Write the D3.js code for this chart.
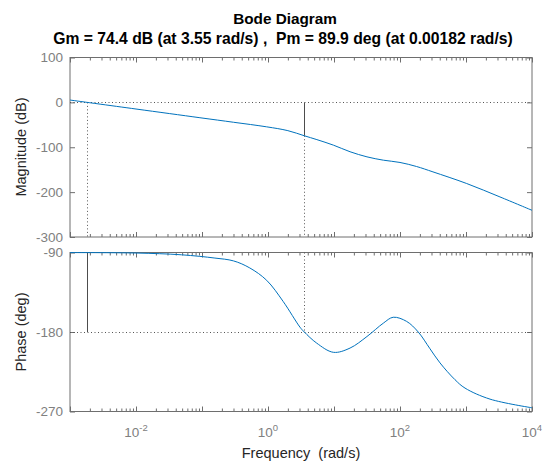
<!DOCTYPE html>
<html>
<head>
<meta charset="utf-8">
<script src="https://cdn.jsdelivr.net/npm/d3@7"></script>
<style>
	body { margin:0; background:#fff; }
	text { font-family:"Liberation Sans", Arial, sans-serif; white-space:pre; }
</style>
</head>
<body>
<div id="chart"></div>
<script>
// values
var magFreq = [0.001, 0.01, 0.093, 0.3, 0.955, 2, 3.55, 5.5, 9.8, 17.5, 31.6, 56, 100, 178, 316, 1023, 3270, 10000];
var magDb = [5.2, -14.8, -34.2, -44.3, -54.5, -63, -74.4, -83, -95.3, -110, -121.4, -128.8, -133.9, -142.9, -154.9, -180.8, -210.7, -240.5];
var phFreq = [0.001, 0.01, 0.049, 0.157, 0.3, 0.53, 0.955, 1.7, 3.05, 3.55, 5.47, 9.8, 17.5, 31.6, 55.9, 79, 126, 189, 285, 404, 681, 966, 2312, 10000];
var phDeg = [-90.1, -90.6, -92.6, -96.3, -99.5, -107.5, -121.5, -145.5, -174.5, -180, -192.6, -203, -198.2, -185.1, -170, -163.3, -168, -180, -199, -215, -234, -243.5, -256, -265.8];
var magTicks = [100, 0, -100, -200, -300];
var phTicks = [-90, -180, -270];
var decadeLabels = [-2, 0, 2, 4];
var gm = {freq:3.55, db:-74.4};
var pm = {freq:0.00182, deg:-90.1};
var titleText = "Bode Diagram";
var subText = "Gm = 74.4 dB (at 3.55 rad/s) ,  Pm = 89.9 deg (at 0.00182 rad/s)";

var width = 550, height = 463;
var left = 70, right = 532;
var svg = d3.select("#chart").append("svg")
	.attr("width", width)
	.attr("height", height);

var x = d3.scaleLog().domain([1e-3, 1e4]).range([left, right]);
var yMag = d3.scaleLinear().domain([-300, 100]).range([237, 57.5]);
var yPh = d3.scaleLinear().domain([-270, -90]).range([411.5, 252.5]);

var axisColor = "#6e6e6e";
var labelColor = "#808080";
var lineColor = "#0072bd";
var markColor = "#4d4d4d";

// all minor and major log ticks
var minorTicks = [];
for(var e=-3; e<4; e++) {
	for(var m=2; m<10; m++) {
		minorTicks.push(m * Math.pow(10, e));
	}
}
var majorTicks = [];
for(var e=-3; e<=4; e++) {
	majorTicks.push(Math.pow(10, e));
}

function drawPanel(y, yticks, top, bottom) {
	var g = svg.append("g");
	// x ticks, inside, top and bottom
	g.append("g")
		.attr("transform", "translate(0," + bottom + ")")
		.call(d3.axisBottom(x).tickValues(minorTicks).tickSize(-3).tickFormat(""));
	g.append("g")
		.attr("transform", "translate(0," + bottom + ")")
		.call(d3.axisBottom(x).tickValues(majorTicks).tickSize(-5).tickFormat(""));
	g.append("g")
		.attr("transform", "translate(0," + top + ")")
		.call(d3.axisTop(x).tickValues(minorTicks).tickSize(-3).tickFormat(""));
	g.append("g")
		.attr("transform", "translate(0," + top + ")")
		.call(d3.axisTop(x).tickValues(majorTicks).tickSize(-5).tickFormat(""));
	// y ticks left and right
	g.append("g")
		.attr("transform", "translate(" + left + ",0)")
		.call(d3.axisLeft(y).tickValues(yticks).tickSize(-5).tickPadding(7)
			.tickFormat(function(d) { return String(d); }));
	g.append("g")
		.attr("transform", "translate(" + right + ",0)")
		.call(d3.axisRight(y).tickValues(yticks).tickSize(-5).tickFormat(""));
	g.selectAll(".domain").remove();
	g.selectAll(".tick line").attr("stroke", axisColor);
	g.selectAll(".tick text")
		.attr("fill", labelColor)
		.style("font-size", "13.5px")
		.style("font-family", "Liberation Sans, Arial, sans-serif");
	// box
	g.append("rect")
		.attr("x", left)
		.attr("y", top)
		.attr("width", right - left)
		.attr("height", bottom - top)
		.attr("fill", "none")
		.attr("stroke", axisColor)
		.attr("stroke-width", 1);
	return g;
}

drawPanel(yMag, magTicks, 57.5, 237);
drawPanel(yPh, phTicks, 252.5, 411.5);

function vline(xv, y1, y2, dotted) {
	var l = svg.append("line")
		.attr("x1", Math.round(x(xv)) + 0.5)
		.attr("x2", Math.round(x(xv)) + 0.5)
		.attr("y1", y1)
		.attr("y2", y2)
		.attr("stroke", markColor)
		.attr("stroke-width", 1);
	if(dotted) {
		l.attr("stroke-dasharray", "1,2.5").attr("stroke", "#555");
	}
}
function hline(yv) {
	svg.append("line")
		.attr("x1", left)
		.attr("x2", right)
		.attr("y1", Math.round(yv) + 0.5)
		.attr("y2", Math.round(yv) + 0.5)
		.attr("stroke", "#555")
		.attr("stroke-dasharray", "1,2.5");
}

// margin markers
hline(yMag(0));
hline(yPh(-180));
vline(gm.freq, yMag(0), yMag(gm.db), false);
vline(gm.freq, yMag(gm.db), yMag(-300), true);
vline(gm.freq, yPh(-90), yPh(-180), true);
vline(pm.freq, yMag(0), yMag(-300), true);
vline(pm.freq, yPh(pm.deg), yPh(-180), false);

// response curves
var magLine = d3.line()
	.x(function(d) { return x(d[0]); })
	.y(function(d) { return yMag(d[1]); })
	.curve(d3.curveCatmullRom.alpha(0.5));
var phLine = d3.line()
	.x(function(d) { return x(d[0]); })
	.y(function(d) { return yPh(d[1]); })
	.curve(d3.curveCatmullRom.alpha(0.5));

svg.append("path")
	.datum(d3.zip(magFreq, magDb))
	.attr("d", magLine)
	.attr("fill", "none")
	.attr("stroke", lineColor)
	.attr("stroke-width", 1);
svg.append("path")
	.datum(d3.zip(phFreq, phDeg))
	.attr("d", phLine)
	.attr("fill", "none")
	.attr("stroke", lineColor)
	.attr("stroke-width", 1);

// x tick labels (10^n)
decadeLabels.forEach(function(p) {
	var t = svg.append("text")
		.attr("x", x(Math.pow(10, p)))
		.attr("y", 437)
		.attr("text-anchor", "middle")
		.attr("fill", labelColor)
		.style("font-size", "13.5px");
	t.append("tspan").text("10");
	t.append("tspan")
		.attr("dy", -6)
		.style("font-size", "9.5px")
		.text(String(p));
});

// titles and labels
svg.append("text")
	.attr("x", 285)
	.attr("y", 23.5)
	.attr("text-anchor", "middle")
	.style("font-size", "15.3px")
	.style("font-weight", "bold")
	.attr("fill", "#000")
	.text(titleText);
svg.append("text")
	.attr("x", 283)
	.attr("y", 43.5)
	.attr("text-anchor", "middle")
	.style("font-size", "15.7px")
	.style("font-weight", "bold")
	.attr("fill", "#000")
	.text(subText);
svg.append("text")
	.attr("x", 301)
	.attr("y", 458)
	.attr("text-anchor", "middle")
	.style("font-size", "14.5px")
	.attr("fill", "#262626")
	.text("Frequency  (rad/s)");
svg.append("text")
	.attr("transform", "translate(26,147)rotate(-90)")
	.attr("text-anchor", "middle")
	.style("font-size", "14.5px")
	.attr("fill", "#262626")
	.text("Magnitude (dB)");
svg.append("text")
	.attr("transform", "translate(26,332)rotate(-90)")
	.attr("text-anchor", "middle")
	.style("font-size", "14.5px")
	.attr("fill", "#262626")
	.text("Phase (deg)");
</script>
</body>
</html>
